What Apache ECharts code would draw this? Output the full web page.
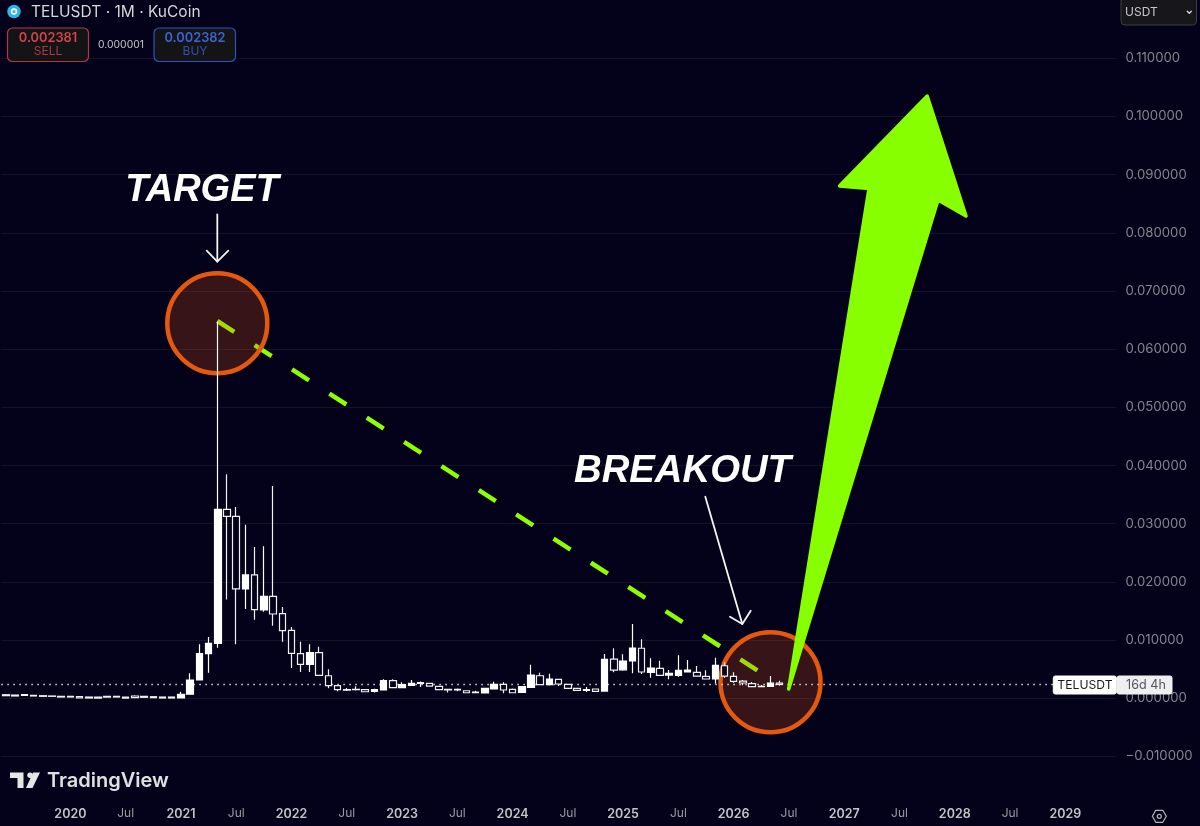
<!DOCTYPE html>
<html><head><meta charset="utf-8">
<style>html,body{margin:0;padding:0;background:#04021a}#c{width:1200px;height:826px}</style>
<script src="https://cdn.jsdelivr.net/npm/echarts@6/dist/echarts.min.js"></script>
</head><body><div id="c"></div>
<script>
const months = [
'2019-06','2019-07','2019-08','2019-09','2019-10','2019-11','2019-12',
'2020-01','2020-02','2020-03','2020-04','2020-05','2020-06','2020-07','2020-08','2020-09','2020-10','2020-11','2020-12',
'2021-01','2021-02','2021-03','2021-04','2021-05','2021-06','2021-07','2021-08','2021-09','2021-10','2021-11','2021-12',
'2022-01','2022-02','2022-03','2022-04','2022-05','2022-06','2022-07','2022-08','2022-09','2022-10','2022-11','2022-12',
'2023-01','2023-02','2023-03','2023-04','2023-05','2023-06','2023-07','2023-08','2023-09','2023-10','2023-11','2023-12',
'2024-01','2024-02','2024-03','2024-04','2024-05','2024-06','2024-07','2024-08','2024-09','2024-10','2024-11','2024-12',
'2025-01','2025-02','2025-03','2025-04','2025-05','2025-06','2025-07','2025-08','2025-09','2025-10','2025-11','2025-12',
'2026-01','2026-02','2026-03','2026-04','2026-05','2026-06','2026-07','2026-08','2026-09','2026-10','2026-11','2026-12',
'2027-01','2027-02','2027-03','2027-04','2027-05','2027-06','2027-07','2027-08','2027-09','2027-10','2027-11','2027-12',
'2028-01','2028-02','2028-03','2028-04','2028-05','2028-06','2028-07','2028-08','2028-09','2028-10','2028-11','2028-12',
'2029-01','2029-02','2029-03','2029-04','2029-05','2029-06'];
const opens = [
.00062,.00056,.00051,.00051,.00045,.00040,.00034,
.00034,.00028,.00022,.00022,.00034,.00034,.00022,.00040,.00034,.00028,.00022,.00022,
.00005,.0007,.00315,.00767,.00945,.03248,.03128,.01879,.0212,.01518,.01753,.01454,
.01169,.00767,.00584,.00784,.00388,.00217,.0015,.00148,.00148,.0012,.00143,.00303,
.00182,.00223,.0027,.00258,.00206,.00155,.00143,.0013,.00098,.00091,.0016,.00241,
.00155,.00103,.00189,.00388,.00234,.00327,.00241,.00172,.00137,.0016,.00125,.00675,
.0049,.00641,.0086,.00447,.00516,.0040,.00395,.00452,.00447,.00378,.00332,.0056,
.00378,.00297,.00251,.002,.00206,.00263];
const closes = [
.00045,.00040,.00062,.00040,.00034,.00034,.00022,
.00022,.00005,.00005,.00001,.00022,.00022,.00001,.00011,.00017,.00011,.00005,.00005,
.0007,.00315,.00767,.00945,.03248,.03128,.01879,.0212,.01523,.01753,.01449,.01162,
.00773,.00584,.00784,.00395,.00217,.00148,.00142,.00155,.00113,.00148,.00303,.00182,
.00234,.00258,.00258,.00211,.00148,.00143,.00155,.00096,.00105,.00172,.00241,.00143,
.00096,.002,.004,.00234,.00332,.00246,.00172,.00137,.0015,.0012,.0067,.00486,
.00641,.00865,.00452,.0052,.00395,.0043,.00481,.00486,.00383,.00332,.00567,.00383,
.00292,.00263,.002,.00205,.00263,.00238];
const lows = [
.00045,.00040,.00051,.00040,.00034,.00034,.00022,
.00022,.00005,.00005,.00001,.00022,.00022,.00001,.00011,.00017,.00011,.00005,.00005,
.00005,.0007,.00315,.0044,.0087,.0170,.00928,.01535,.01351,.01488,.01248,.00973,
.00521,.00452,.00452,.00395,.00172,.0012,.00125,.00135,.0011,.0010,.0014,.00182,
.00182,.00223,.00194,.00211,.00148,.0010,.0012,.00096,.00096,.00091,.0016,.00086,
.00096,.00103,.00189,.00234,.0022,.0021,.00172,.00137,.0011,.0012,.00125,.00447,
.00474,.0043,.00418,.00354,.00395,.00327,.00371,.00452,.00383,.00327,.00251,.00354,
.00268,.00223,.002,.0019,.00206,.00215];
const highs = [
.00062,.00056,.00074,.00051,.00045,.00040,.00034,
.00034,.00028,.00022,.00022,.00040,.00034,.00022,.00051,.00034,.00028,.00022,.00022,
.00113,.0043,.00928,.01054,.0647,.0385,.03288,.02984,.026,.02613,.03649,.01569,
.01225,.00973,.00928,.00887,.00498,.00225,.00177,.00206,.0015,.00165,.00327,.00327,
.00275,.00315,.00288,.00265,.00215,.00165,.0017,.0013,.0013,.00172,.00285,.00275,
.0017,.002,.00578,.0044,.00423,.00332,.00246,.00172,.00195,.0016,.0076,.0086,
.00756,.01277,.01014,.00688,.00646,.00486,.00739,.00658,.00555,.00481,.00698,.00619,
.00447,.00315,.0028,.0023,.00383,.003];
const lastPrice = 0.002381;
const yTickMin = -0.02, yTickMax = 0.12, yTickStep = 0.01;

const BG = '#04021a', GRID = '#151426', FONT = 'Inter, "Noto Sans", sans-serif';
const candles = opens.map((o, i) => [o, closes[i], lows[i], highs[i]]);

const txt = (text, x, y, fill, font, align, z) => ({ type:'text', z: z || 20, silent:true,
  style:{ text, x, y, fill, font, textAlign: align || 'left', textVerticalAlign:'middle' } });
const box = (x, y, w, h, r, fill, stroke, lw) => ({ type:'rect', z:19, silent:true,
  shape:{ x, y, width:w, height:h, r }, style:{ fill, stroke, lineWidth: lw || 1 } });
const line = (pts, stroke, lw, z) => ({ type:'polyline', z: z || 15, silent:true,
  shape:{ points: pts }, style:{ fill:null, stroke, lineWidth: lw, lineCap:'round', lineJoin:'round' } });
const poly = (pts, fill, z) => ({ type:'polygon', z: z || 19, silent:true, shape:{ points: pts }, style:{ fill } });

const LIME = '#88ff00', ORANGE = '#e4590f', RED = '#d2434b', BLUE = '#3a63d8';
const annotations = [
  { type:'line', z:0.5, silent:true, shape:{ x1:217.3, y1:321, x2:757.7, y2:670.7 },
    style:{ stroke:'#8eff00', lineWidth:4.5, lineDash:[20.2, 24.3], lineCap:'butt' } },
  { type:'circle', z:1, silent:true, shape:{ cx:217.3, cy:323.3, r:50 },
    style:{ fill:'rgba(232,88,16,0.22)', stroke:ORANGE, lineWidth:4.5 } },
  { type:'circle', z:1, silent:true, shape:{ cx:770.5, cy:682.2, r:50 },
    style:{ fill:'rgba(232,88,16,0.22)', stroke:ORANGE, lineWidth:4.5 } },
  { type:'polygon', z:15, silent:true,
    shape:{ points:[[927.2,96],[966,216],[938,200],[788.7,689],[869,188.5],[839.5,186]] },
    style:{ fill:LIME, stroke:LIME, lineWidth:3.5, lineJoin:'round' } },
  line([[217.3,214.5],[217.3,261.5]], '#f4f4f4', 1.8),
  line([[206.7,250.7],[217.3,261.7],[228.3,250.7]], '#f4f4f4', 1.8),
  line([[705.3,496.7],[742.3,624]], '#f4f4f4', 1.8),
  line([[730,616.7],[742.3,624],[750.7,610.7]], '#f4f4f4', 1.8),
  txt('TARGET', 202, 191, '#ffffff', 'italic bold 38px "Liberation Sans", Arial, sans-serif', 'center'),
  txt('BREAKOUT', 682.5, 471, '#ffffff', 'italic bold 38.3px "Liberation Sans", Arial, sans-serif', 'center'),
  { type:'circle', z:19, silent:true, shape:{ cx:14, cy:11.5, r:6.8 }, style:{ fill:'#29b6ee' } },
  { type:'circle', z:20, silent:true, shape:{ cx:14, cy:11.5, r:2.4 }, style:{ fill:'none', stroke:'#ffffff', lineWidth:1.6 } },
  txt('TELUSDT · 1M · KuCoin', 31, 12, '#d6d6da', '15.5px '+FONT),
  box(7.5, 28, 81, 33.5, 5, '#141416', '#b03a42', 1.2),
  txt('0.002381', 48, 38, RED, '600 12.8px '+FONT, 'center'),
  txt('SELL', 48, 51.7, '#a83a42', '12px '+FONT, 'center'),
  txt('0.000001', 121, 44.7, '#c4c4c8', '10.4px '+FONT, 'center'),
  box(154, 28, 81.5, 33.5, 5, '#141416', '#2d54bb', 1.2),
  txt('0.002382', 195, 38, BLUE, '600 12.8px '+FONT, 'center'),
  txt('BUY', 195, 51.7, '#3153b0', '12px '+FONT, 'center'),
  box(1121, -6, 75.5, 31, 4, '#17171b', '#3c3c42', 1),
  txt('USDT', 1125, 12.5, '#c6c6ca', '12px '+FONT),
  line([[1187.3,11.3],[1189.3,13.3],[1191.3,11.3]], '#d8d8dc', 1.3, 20),
  box(1053.3, 676, 63, 18, 2, '#ffffff', '#ffffff', 0),
  box(1117, 676, 55, 18, 2, '#efeff1', '#efeff1', 0),
  txt('TELUSDT', 1085, 685, '#1a1a1e', '12.2px '+FONT, 'center'),
  txt('16d 4h', 1146, 685.5, '#55555c', '12.6px '+FONT, 'center'),
  poly([[10,772.5],[23.5,772.5],[23.5,788],[17.5,788],[17.5,778],[10,778]], '#e6e6e6'),
  { type:'circle', z:19, silent:true, shape:{ cx:30, cy:775.2, r:2.7 }, style:{ fill:'#e6e6e6' } },
  poly([[33,772.5],[40,772.5],[32.5,788],[26,788]], '#e6e6e6'),
  txt('TradingView', 47, 781, '#e0e0e0', '600 20px '+FONT),
  { type:'polygon', z:20, silent:true,
    shape:{ points:[[1152.3,816.3],[1155.8,810.3],[1162.8,810.3],[1166.3,816.3],[1162.8,822.3],[1155.8,822.3]] },
    style:{ fill:'none', stroke:'#b4b4b8', lineWidth:1.2, lineJoin:'round' } },
  { type:'circle', z:20, silent:true, shape:{ cx:1159.3, cy:816.3, r:2 }, style:{ fill:'none', stroke:'#b4b4b8', lineWidth:1.2 } }
];

const chart = echarts.init(document.getElementById('c'), null, { renderer:'canvas', width:1200, height:826 });
chart.setOption({
  animation:false,
  backgroundColor:BG,
  grid:{ left:1.3, top:0, width:1114.7, height:814.7, containLabel:false },
  xAxis:{
    type:'category', data:months, position:'bottom',
    axisLine:{ show:false }, axisTick:{ show:false }, splitLine:{ show:false },
    axisLabel:{
      margin:-7, hideOverlap:false,
      interval:(i, v) => v >= '2020' && (v.endsWith('-01') || v.endsWith('-07')),
      formatter:v => v.endsWith('-01') ? '{y|'+v.slice(0,4)+'}' : '{m|Jul}',
      rich:{
        y:{ color:'#c4c4c8', fontFamily:FONT, fontSize:12.5, fontWeight:600 },
        m:{ color:'#9a9aa0', fontFamily:FONT, fontSize:12 }
      }
    }
  },
  yAxis:{
    type:'value', position:'right', min:yTickMin, max:yTickMax, interval:yTickStep,
    axisLine:{ show:false }, axisTick:{ show:false },
    splitLine:{ show:true, showMinLine:false, showMaxLine:false, lineStyle:{ color:GRID, width:1 } },
    axisLabel:{
      margin:9.5, showMinLabel:false, showMaxLabel:false,
      color:'#85858e', fontFamily:FONT, fontSize:13.2,
      formatter:v => (v < 0 ? '\u2212' : '') + Math.abs(v).toFixed(6)
    }
  },
  series:[{
    type:'candlestick', z:5, data:candles, barWidth:7,
    itemStyle:{ color:'#ffffff', color0:BG, borderColor:'#ffffff', borderColor0:'#f0f0f0', borderWidth:1.2 },
    markLine:{
      silent:true, symbol:'none', animation:false, precision:6,
      label:{ show:false },
      lineStyle:{ color:'#cfcfd4', width:1.4, type:[1.6,4.4] },
      data:[{ yAxis:lastPrice }]
    }
  }],
  graphic:{ elements:annotations }
});
</script></body></html>
